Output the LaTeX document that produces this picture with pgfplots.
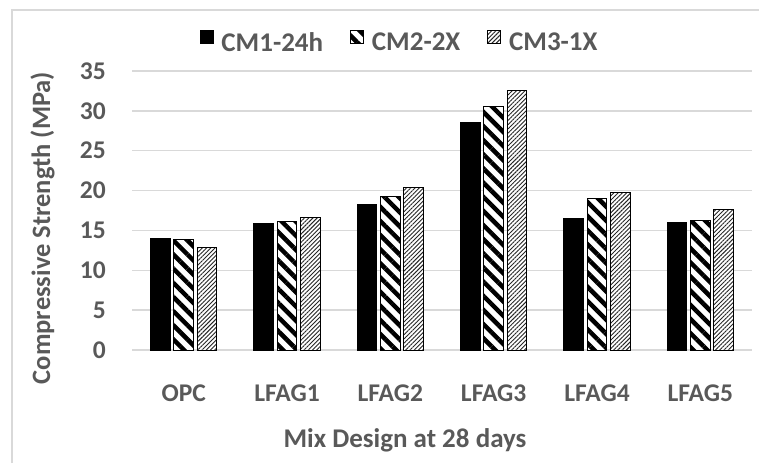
\documentclass[border=0pt]{standalone}
\usepackage{pgfplots}
\pgfplotsset{compat=1.18}
\usetikzlibrary{patterns.meta}
\usepackage{fontspec}
\setmainfont{Carlito}
\definecolor{txtgray}{HTML}{595959}
\definecolor{gridgray}{HTML}{D9D9D9}
\begin{document}
\begin{tikzpicture}
\path[use as bounding box] (0pt,0pt) rectangle (759pt,463pt);
\draw[gridgray, line width=1.5pt] (12pt,0pt) -- (12pt,453pt) -- (759pt,453pt);
\begin{axis}[
  at={(132pt,113pt)}, anchor=south west,
  scale only axis, width=620pt, height=279pt,
  xmin=-0.5, xmax=5.5, ymin=0, ymax=35,
  ybar=3.8pt, bar width=19.5pt,
  axis x line*=bottom, axis y line*=left,
  separate axis lines,
  x axis line style={draw=gridgray, line width=1.5pt, -},
  y axis line style={draw=none},
  major tick length=0pt,
  xtick={0,1,2,3,4,5},
  xticklabels={OPC,LFAG1,LFAG2,LFAG3,LFAG4,LFAG5},
  ytick={0,5,...,35},
  ymajorgrids,
  grid style={gridgray, line width=1.5pt},
  /pgf/number format/assume math mode=true,
  ticklabel style={font=\bfseries\fontsize{25.5}{30}\selectfont, text=txtgray},
  xticklabel style={anchor=base, yshift=-51pt},
  yticklabel style={anchor=east, inner sep=0pt, xshift=-26pt},
  legend style={at={(axis description cs:0.43,1.106)}, anchor=center, draw=none, fill=none,
    inner sep=0pt, nodes={inner sep=0pt},
    font=\bfseries\fontsize{27}{32}\selectfont, text=txtgray,
    /tikz/every odd column/.append style={column sep=8pt},
    /tikz/every even column/.append style={column sep=27pt}},
  legend columns=3,
  legend image code/.code={\draw[#1, line width=0.8pt] (0pt,-0.5pt) rectangle (13pt,12.5pt);},
]
\addplot[draw=black, line width=1pt, fill=black] coordinates {(0,14.0) (1,15.9) (2,18.2) (3,28.5) (4,16.5) (5,16.0)};
\addplot[draw=black, line width=1pt, fill=white, postaction={pattern={Lines[angle=-45,distance=10pt,line width=4.5pt]}, pattern color=black}] coordinates {(0,13.8) (1,16.1) (2,19.2) (3,30.5) (4,19.0) (5,16.3)};
\addplot[draw=black, line width=1pt, fill=white, postaction={pattern={Lines[angle=45,distance=3pt,line width=0.9pt]}, pattern color=black!85}] coordinates {(0,12.9) (1,16.6) (2,20.4) (3,32.5) (4,19.8) (5,17.6)};
\legend{CM1-24h,CM2-2X,CM3-1X}
\end{axis}
\node[anchor=base, rotate=90, font=\bfseries\fontsize{26.5}{31}\selectfont, text=txtgray] at (50pt,235pt) {Compressive Strength (MPa)};
\node[anchor=base, font=\bfseries\fontsize{27}{32}\selectfont, text=txtgray] at (405pt,16pt) {Mix Design at 28 days};
\end{tikzpicture}
\end{document}
